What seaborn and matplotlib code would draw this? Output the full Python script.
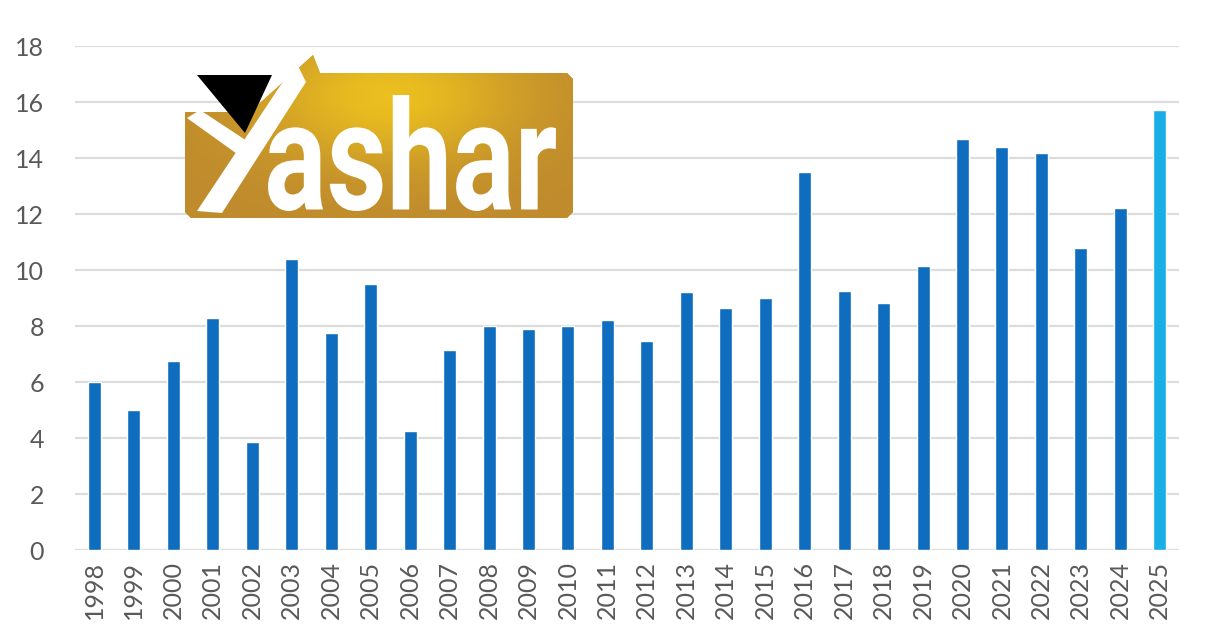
import numpy as np
import pandas as pd
import seaborn as sns
import matplotlib.pyplot as plt
from matplotlib.patches import Polygon, PathPatch
from matplotlib.textpath import TextPath
from matplotlib.font_manager import FontProperties
from matplotlib.transforms import Affine2D

years = [str(y) for y in range(1998, 2026)]
values = [6.0, 5.0, 6.75, 8.3, 3.85, 10.4, 7.75, 9.5, 4.25, 7.15,
          8.0, 7.9, 8.0, 8.2, 7.45, 9.2, 8.65, 9.0, 13.5, 9.25,
          8.82, 10.15, 14.68, 14.4, 14.18, 10.8, 12.2, 15.72]
yticks = [0, 2, 4, 6, 8, 10, 12, 14, 16, 18]

bar_blue = "#0f6dbf"
last_blue = "#1aaee8"
colors = [bar_blue] * (len(years) - 1) + [last_blue]

W, H = 1206, 643

sns.set_theme(style="white")
plt.rcParams['font.family'] = ['Lato', 'DejaVu Sans']

df = pd.DataFrame({"year": years, "value": values})

fig = plt.figure(figsize=(W / 100, H / 100), dpi=100)
ax = fig.add_axes([0.062, 0.1446, 0.916, 0.7838])
sns.barplot(data=df, x="year", y="value", hue="year", palette=colors,
            legend=False, width=0.33, saturation=1, ax=ax)

ax.set_ylim(0, 18)
ax.set_xlim(-0.5, len(years) - 0.5)
ax.set_yticks(yticks)
ax.yaxis.grid(True, color="#dcdcdc", linewidth=1.6)
ax.set_axisbelow(True)
for s in ax.spines.values():
    s.set_visible(False)
ax.set_xlabel("")
ax.set_ylabel("")
ax.tick_params(axis="y", labelsize=18, labelcolor="#595959", pad=22, length=0)
ax.tick_params(axis="x", labelsize=18, labelcolor="#595959", rotation=90, pad=8, length=0)


# --- logo watermark, drawn in pixel coords (y measured from top) ---
def px(pts):
    return [(x, H - y) for x, y in pts]


overlay = fig.add_axes([0, 0, 1, 1], zorder=6)
overlay.axis("off")

gold_shape = px([(185, 112), (250, 112), (313, 55), (320, 73), (567, 73), (573, 79),
                 (573, 212), (567, 218), (191, 218), (185, 212)])
gold = overlay.add_patch(Polygon(gold_shape, closed=True, facecolor="#c99a2c",
                                 edgecolor="none", zorder=1))
gx, gy = np.meshgrid(np.linspace(-1, 1, 300), np.linspace(-1, 1, 150))
glow = np.exp(-((gx - 0.05) ** 2 / 0.45 + (gy - 0.5) ** 2 / 0.7))
im = overlay.imshow(glow, cmap=sns.blend_palette(["#bf8b2d", "#ebbf1f"], as_cmap=True),
                    extent=[185, 573, H - 218, H - 55], aspect="auto", origin="lower",
                    zorder=2)
im.set_clip_path(gold)
overlay.set_xlim(0, W)
overlay.set_ylim(0, H)

overlay.add_patch(Polygon(px([(197, 75), (272, 75), (245, 133)]), closed=True,
                          facecolor="black", edgecolor="none", zorder=3))
overlay.add_patch(Polygon(px([(187, 118), (200, 110), (250, 143), (240, 156)]), closed=True,
                          facecolor="white", edgecolor="none", zorder=3))
overlay.add_patch(Polygon(px([(197, 211), (222, 213), (306, 82), (296, 62)]), closed=True,
                          facecolor="white", edgecolor="none", zorder=3))

tp = TextPath((0, 0), "ashar", size=100, prop=FontProperties(family="Roboto", weight="bold"))
ext = tp.get_extents()
x0, x1, top, base = 268, 556, 95, 211
sx = (x1 - x0) / ext.width
sy = ((H - top) - (H - base)) / ext.height
tr = Affine2D().translate(-ext.x0, -ext.y0).scale(sx, sy).translate(x0, H - base)
overlay.add_patch(PathPatch(tr.transform_path(tp), facecolor="white", edgecolor="none",
                            zorder=3))

fig.savefig("out.png", dpi=100)
